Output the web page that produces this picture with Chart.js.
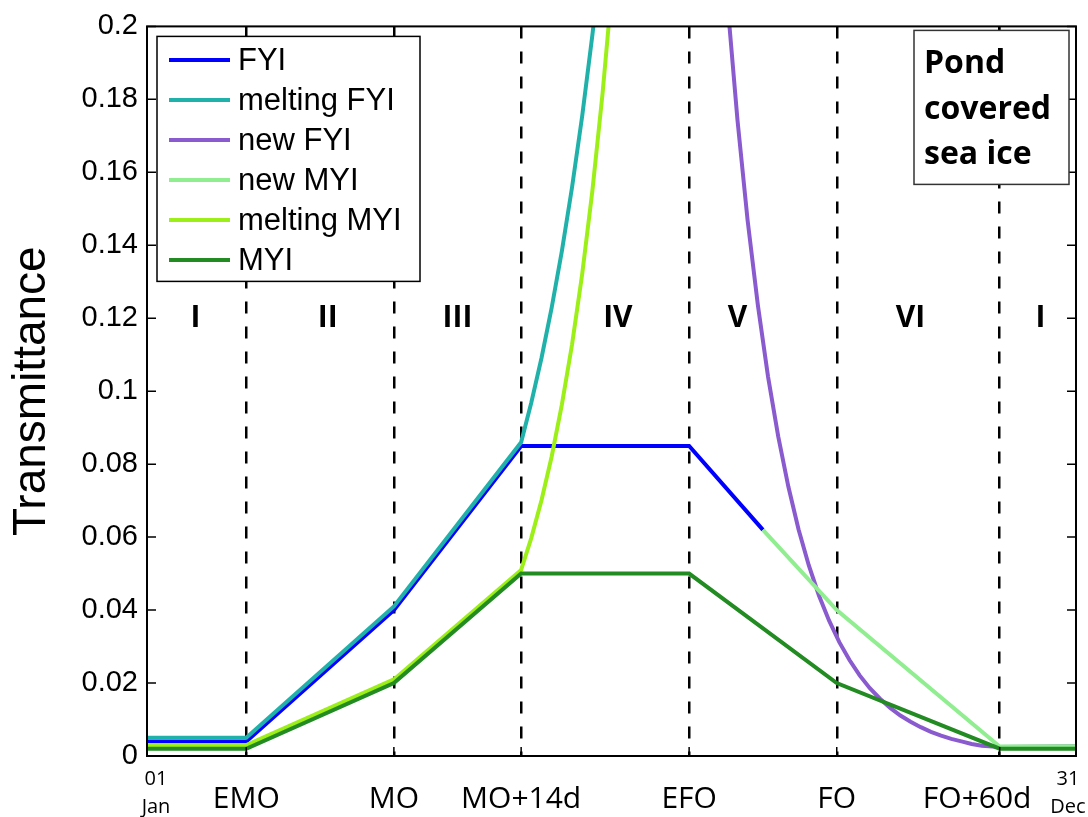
<!DOCTYPE html>
<html>
<head>
<meta charset="utf-8">
<script src="https://cdn.jsdelivr.net/npm/chart.js@4/dist/chart.umd.min.js"></script>
<style>
  html, body { margin: 0; padding: 0; background: #fff; overflow: hidden; }
  #wrap { width: 1088px; height: 817px; position: relative; }
  #chart { display: block; }
</style>
</head>
<body>
<div id="wrap"><canvas id="chart"></canvas></div>
<script>
// x positions are in "days" along a schematic year (0 = 01 Jan, 365 = 31 Dec)
const xTickDays = [0, 39, 97, 147, 213, 271, 335, 365]
const xTickLabels = ['', 'EMO', 'MO', 'MO+14d', 'EFO', 'FO', 'FO+60d', '']

const phaseNames = ['I', 'II', 'III', 'IV', 'V', 'VI', 'I']
const phaseDays = [19, 71, 122, 185, 232, 300, 351]
const phaseLevel = 0.12

const fyiDays = [0, 39, 97, 147, 213, 242]
const fyiValues = [0.004, 0.004, 0.040, 0.085, 0.085, 0.062]

const meltFyiDays = [0, 39, 97, 147, 151, 155, 159, 163, 167, 171, 175, 179]
const meltFyiValues = [0.005, 0.005, 0.041, 0.086, 0.0969, 0.1091, 0.1229, 0.1384, 0.1559, 0.1755, 0.1977, 0.2227]

const newFyiDays = [224, 228, 232, 236, 240, 244, 248, 252, 256, 260, 264, 268, 272, 276, 280,
  284, 288, 292, 296, 300, 304, 308, 312, 316, 320, 324, 328, 335, 365]
const newFyiValues = [0.2458, 0.2070, 0.1743, 0.1467, 0.1236, 0.1040, 0.0876, 0.0738, 0.0621, 0.0523, 0.0440,
  0.0371, 0.0312, 0.0263, 0.0221, 0.0186, 0.0157, 0.0132, 0.0111, 0.0094, 0.0079, 0.0066, 0.0056,
  0.0047, 0.0040, 0.0033, 0.0028, 0.0025, 0.0027]

const newMyiDays = [242, 271, 335, 365]
const newMyiValues = [0.062, 0.040, 0.0026, 0.0027]

const meltMyiDays = [0, 39, 97, 147, 151, 155, 159, 163, 167, 171, 175, 179, 183]
const meltMyiValues = [0.003, 0.003, 0.021, 0.051, 0.0598, 0.0701, 0.0821, 0.0963, 0.1128, 0.1322, 0.1550, 0.1817, 0.2129]

const myiDays = [0, 39, 97, 147, 213, 271, 335, 365]
const myiValues = [0.002, 0.002, 0.020, 0.050, 0.050, 0.020, 0.002, 0.002]

const series = [
  { label: 'FYI', days: fyiDays, values: fyiValues, color: '#0000ff' },
  { label: 'melting FYI', days: meltFyiDays, values: meltFyiValues, color: '#20b2aa' },
  { label: 'new FYI', days: newFyiDays, values: newFyiValues, color: '#8a5acf' },
  { label: 'new MYI', days: newMyiDays, values: newMyiValues, color: '#90ee90' },
  { label: 'melting MYI', days: meltMyiDays, values: meltMyiValues, color: '#9cef17' },
  { label: 'MYI', days: myiDays, values: myiValues, color: '#228b22' }
]

const decorations = {
  id: 'decorations',
  afterDatasetsDraw(chart) {
    const { ctx, chartArea: a, scales: { x, y } } = chart
    ctx.save()

    // phase numerals
    ctx.fillStyle = '#000'
    ctx.font = 'bold 30px "Open Sans"'
    ctx.textAlign = 'center'
    ctx.textBaseline = 'middle'
    phaseNames.forEach((n, i) => {
      ctx.fillText(n, x.getPixelForValue(phaseDays[i]), y.getPixelForValue(phaseLevel))
    })

    // inward tick marks, matlab style
    ctx.strokeStyle = '#000'
    ctx.lineWidth = 1.5
    ctx.beginPath()
    y.ticks.forEach(t => {
      const py = y.getPixelForValue(t.value)
      ctx.moveTo(a.left, py); ctx.lineTo(a.left + 9, py)
      ctx.moveTo(a.right, py); ctx.lineTo(a.right - 9, py)
    })
    x.ticks.forEach(t => {
      const px = x.getPixelForValue(t.value)
      ctx.moveTo(px, a.top); ctx.lineTo(px, a.top + 9)
      ctx.moveTo(px, a.bottom); ctx.lineTo(px, a.bottom - 9)
    })
    ctx.stroke()

    ctx.lineWidth = 2
    ctx.strokeRect(a.left, a.top, a.width, a.height)

    // legend box
    const lx = a.left + 10, ly = a.top + 10
    ctx.fillStyle = '#fff'
    ctx.fillRect(lx, ly, 263, 245)
    ctx.lineWidth = 1.5
    ctx.strokeStyle = '#000'
    ctx.strokeRect(lx, ly, 263, 245)
    ctx.font = '31px "Liberation Sans"'
    ctx.textAlign = 'left'
    chart.data.datasets.forEach((ds, i) => {
      const ry = ly + 23.6 + i * 40
      ctx.strokeStyle = ds.borderColor
      ctx.lineWidth = 4
      ctx.beginPath()
      ctx.moveTo(lx + 12, ry); ctx.lineTo(lx + 73, ry)
      ctx.stroke()
      ctx.fillStyle = '#000'
      ctx.fillText(ds.label, lx + 81, ry + 1)
    })

    // note box
    const bx = a.right - 162, by = a.top + 4
    ctx.fillStyle = '#fff'
    ctx.fillRect(bx, by, 155, 154)
    ctx.strokeStyle = '#333'
    ctx.lineWidth = 1.5
    ctx.strokeRect(bx, by, 155, 154)
    ctx.fillStyle = '#000'
    ctx.font = 'bold 32px "Open Sans"'
    ctx.textBaseline = 'alphabetic'
    ;['Pond', 'covered', 'sea ice'].forEach((t, i) => ctx.fillText(t, bx + 10, by + 43 + i * 45.5))

    // date labels at both ends of the x axis
    ctx.font = '20px "Open Sans"'
    ctx.textAlign = 'center'
    ctx.textBaseline = 'middle'
    const x0 = x.getPixelForValue(0) + 9, x1 = x.getPixelForValue(365) - 8
    ctx.fillText('01', x0, a.bottom + 23)
    ctx.fillText('Jan', x0, a.bottom + 51)
    ctx.fillText('31', x1, a.bottom + 23)
    ctx.fillText('Dec', x1, a.bottom + 51)

    ctx.restore()
  }
}

new Chart(document.getElementById('chart'), {
  type: 'line',
  data: {
    datasets: series.map((s, i) => ({
      label: s.label,
      data: s.days.map((d, j) => ({ x: d, y: s.values[j] })),
      borderColor: s.color,
      backgroundColor: s.color,
      borderWidth: 4,
      pointRadius: 0,
      tension: 0,
      fill: false,
      clip: 0,
      order: series.length - i
    }))
  },
  options: {
    responsive: true,
    maintainAspectRatio: false,
    animation: false,
    layout: { padding: { left: 0, top: 22, right: 12, bottom: 0 } },
    plugins: {
      legend: { display: false },
      tooltip: { enabled: false }
    },
    scales: {
      x: {
        type: 'linear',
        min: 0,
        max: 365,
        afterBuildTicks: s => { s.ticks = xTickDays.map(v => ({ value: v })) },
        afterFit: s => {
          s.height = 61
          s.paddingLeft = 0
          s.paddingRight = 0
        },
        grid: {
          color: c => (c.index === 0 || c.index === xTickDays.length - 1) ? 'rgba(0,0,0,0)' : '#000',
          lineWidth: 2.5,
          drawTicks: false
        },
        border: { display: false, dash: [12, 13] },
        ticks: {
          autoSkip: false,
          maxRotation: 0,
          padding: 25,
          color: '#000',
          font: { family: 'Open Sans', size: 30 },
          callback: (v, i) => i === 6 ? xTickLabels[i] + '\u2002\u2002\u2002' : xTickLabels[i]
        }
      },
      y: {
        min: 0,
        max: 0.2,
        afterFit: s => { s.width = 147 },
        grid: { display: false, drawTicks: false },
        border: { display: false },
        ticks: {
          stepSize: 0.02,
          padding: 9,
          color: '#000',
          font: { family: 'Liberation Sans', size: 29 },
          callback: v => String(+v.toFixed(2))
        },
        title: {
          display: true,
          text: 'Transmittance',
          color: '#000',
          font: { family: 'Liberation Sans', size: 46 },
          padding: { top: 5, bottom: 0 }
        }
      }
    }
  },
  plugins: [decorations]
})
</script>
</body>
</html>
